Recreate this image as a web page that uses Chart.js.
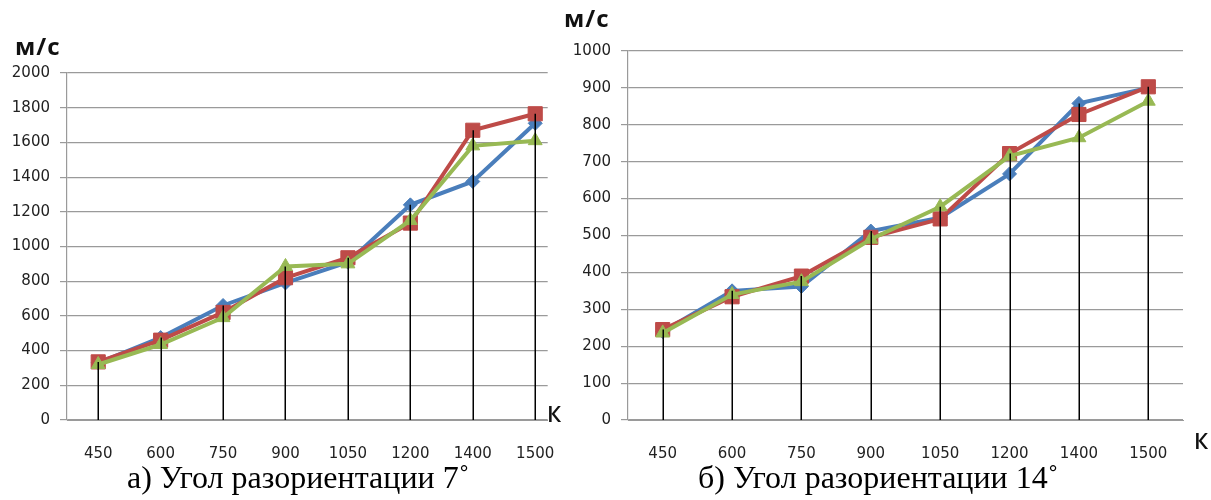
<!DOCTYPE html>
<html>
<head>
<meta charset="utf-8">
<script src="https://cdn.jsdelivr.net/npm/chart.js@4"></script>
<style>
  html, body { margin: 0; padding: 0; background: #fff; }
  body { width: 1211px; height: 500px; position: relative; overflow: hidden; }
  .box { position: absolute; }
  .unit { position: absolute; font-family: "Open Sans", Lato, sans-serif; font-weight: bold; font-size: 24px; letter-spacing: 1px; color: #111; line-height: 1; }
  .kel { position: absolute; font-family: "Open Sans", sans-serif; font-weight: 600; font-size: 22px; color: #111; line-height: 1; }
  .cap { position: absolute; font-family: "Liberation Serif", "Times New Roman", serif; font-size: 32px; color: #000; line-height: 1; white-space: nowrap; }
</style>
</head>
<body>
<div class="box" style="left:0;top:0;width:580px;height:470px;"><canvas id="ca" width="580" height="470"></canvas></div>
<div class="box" style="left:560px;top:0;width:651px;height:470px;"><canvas id="cb" width="651" height="470"></canvas></div>

<div class="unit" style="left:15px;top:34px;">м/с</div>
<div class="unit" style="left:564px;top:6px;">м/с</div>
<div class="kel" style="left:547px;top:402px;">К</div>
<div class="kel" style="left:1194px;top:429px;">К</div>
<div class="cap" style="left:127px;top:461px;">а) Угол разориентации 7˚</div>
<div class="cap" style="left:698px;top:461px;">б) Угол разориентации 14˚</div>

<script>
// ---- data ----
const categories = ['450', '600', '750', '900', '1050', '1200', '1400', '1500'];

const a_blue  = [330, 475, 660, 790, 910, 1240, 1375, 1710];
const a_red   = [335, 460, 620, 820, 935, 1135, 1670, 1765];
const a_green = [320, 435, 590, 885, 900, 1150, 1580, 1610];

const b_blue  = [240, 350, 362, 512, 548, 667, 858, 900];
const b_red   = [245, 334, 390, 495, 545, 722, 828, 903];
const b_green = [236, 340, 375, 490, 578, 715, 765, 864];

const a_ticks = [0, 200, 400, 600, 800, 1000, 1200, 1400, 1600, 1800, 2000];
const b_ticks = [0, 100, 200, 300, 400, 500, 600, 700, 800, 900, 1000];

// ---- styling ----
const BLUE = '#4A7EBB', RED = '#BE4B48', GREEN = '#98B954';
const GRID = '#9a9a9a';
const TICKFONT = { family: '"DejaVu Sans", Verdana, sans-serif', size: 15 };

function pts(arr) { return arr.map((v, i) => ({ x: i, y: v })); }

const dropLines = {
  id: 'dropLines',
  afterDatasetsDraw(chart) {
    const { ctx, scales: { x, y } } = chart;
    const n = categories.length;
    ctx.save();
    ctx.strokeStyle = '#000';
    ctx.lineWidth = 1.5;
    for (let i = 0; i < n; i++) {
      let m = -Infinity;
      chart.data.datasets.forEach(ds => { m = Math.max(m, ds.data[i].y); });
      const px = Math.round(x.getPixelForValue(i)) + 0.25;
      ctx.beginPath();
      ctx.moveTo(px, y.getPixelForValue(m));
      ctx.lineTo(px, y.getPixelForValue(0));
      ctx.stroke();
    }
    ctx.restore();
  }
};

function makeChart(id, blue, red, green, ticks, xmax, yWidth, padTop, padRight) {
  return new Chart(document.getElementById(id), {
    type: 'line',
    data: {
      datasets: [
        { data: pts(blue), borderColor: BLUE, backgroundColor: BLUE, borderWidth: 4,
          pointStyle: 'rectRot', pointRadius: 7, pointBorderWidth: 1, order: 3 },
        { data: pts(red), borderColor: RED, backgroundColor: RED, borderWidth: 4,
          pointStyle: 'rect', pointRadius: 10, pointBorderWidth: 1, order: 2 },
        { data: pts(green), borderColor: GREEN, backgroundColor: GREEN, borderWidth: 4,
          pointStyle: 'triangle', pointRadius: 8, pointBorderWidth: 1, order: 1 }
      ]
    },
    options: {
      responsive: false,
      animation: false,
      events: [],
      layout: { padding: { left: 0, top: padTop, right: padRight, bottom: 0 } },
      plugins: { legend: { display: false }, tooltip: { enabled: false } },
      scales: {
        x: {
          type: 'linear',
          min: -0.5,
          max: xmax,
          grid: { display: false, drawTicks: false },
          border: { display: true, color: GRID, width: 1 },
          afterBuildTicks(s) { s.ticks = categories.map((_, i) => ({ value: i })); },
          afterFit(s) { s.height = 50; },
          ticks: {
            autoSkip: false, maxRotation: 0, padding: 25, color: '#222', font: TICKFONT,
            callback: (v) => categories[v]
          }
        },
        y: {
          min: ticks[0],
          max: ticks[ticks.length - 1],
          afterBuildTicks(s) { s.ticks = ticks.map(v => ({ value: v })); },
          afterFit(s) { s.width = yWidth; },
          grid: { color: GRID, lineWidth: 1.2, drawTicks: true, tickLength: 7, tickColor: GRID },
          border: { display: true, color: GRID, width: 1.2 },
          ticks: { padding: 10, color: '#222', font: TICKFONT, callback: (v) => String(v) }
        }
      }
    },
    plugins: [dropLines]
  });
}

makeChart('ca', a_blue, a_red, a_green, a_ticks, 7.2, 67, 73, 27);
makeChart('cb', b_blue, b_red, b_green, b_ticks, 7.5, 68, 51, 28);
</script>
</body>
</html>
